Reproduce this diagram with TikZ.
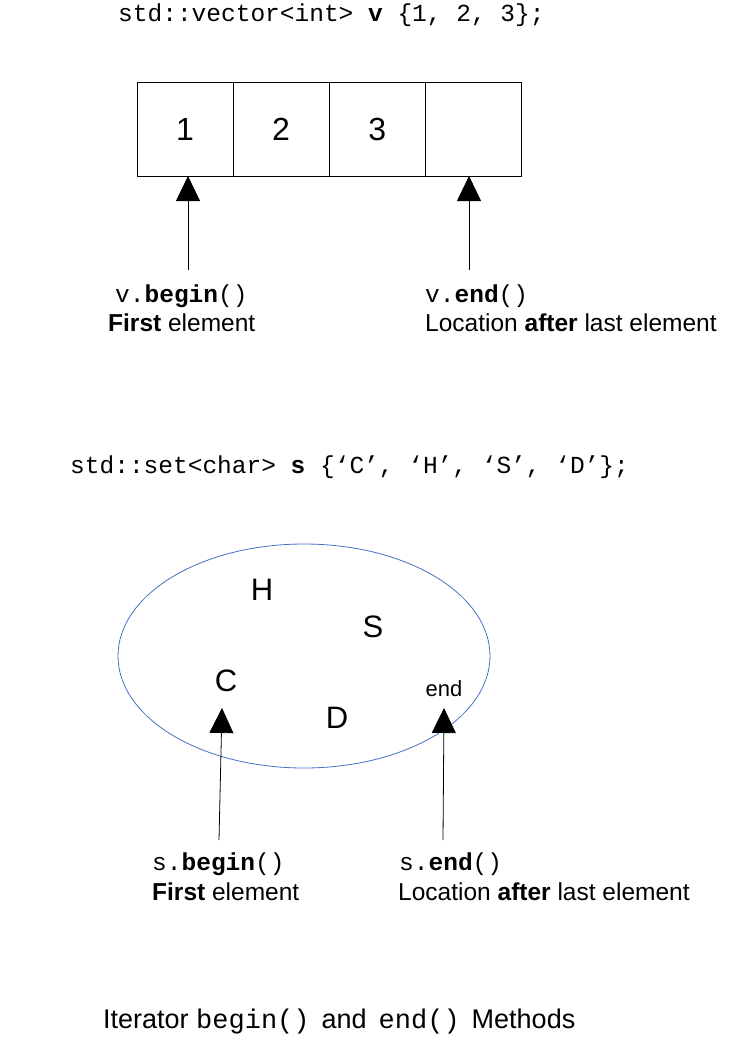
\documentclass[tikz,border=0pt]{standalone}
\usepackage{fontspec}
\setmainfont{Liberation Sans}
\setmonofont{Liberation Mono}
\usetikzlibrary{arrows.meta,shapes.geometric}
\begin{document}
\begin{tikzpicture}[x=1pt,y=-1pt,
  cell/.style={draw,minimum width=95.75pt,minimum height=94pt,inner sep=0,font=\fontsize{32}{34}\selectfont},
  ptr/.style={-{Triangle[width=24pt,length=25pt]},line width=0.8pt},
  lbl/.style={font=\fontsize{24.5}{28}\selectfont,anchor=west,inner sep=0},
  code/.style={font=\ttfamily\fontsize{24.5}{28}\selectfont,anchor=west,inner sep=0},
  letter/.style={font=\fontsize{31}{34}\selectfont,inner sep=0}]
\useasboundingbox (0,0) rectangle (732,1042);
\node[code] (c1) at (118,15) {std::vector<int> \textbf{v} \{1, 2, 3\};};
\node[cell] (a1) at (184.9,129) {1};
\node[cell,anchor=west] (a2) at (a1.east) {2};
\node[cell,anchor=west] (a3) at (a2.east) {3};
\node[cell,anchor=west] (a4) at (a3.east) {};
\coordinate (b1) at (188,270);
\coordinate (b2) at (469,270);
\coordinate (t1) at (188,176);
\coordinate (t2) at (469,176);
\draw[ptr] (b1) -- (t1);
\draw[ptr] (b2) -- (t2);
\node[code] (l1) at (115,296) {v.\textbf{begin}()};
\node[lbl] (l2) at (108,323) {\textbf{First} element};
\node[code] (l3) at (425,296) {v.\textbf{end}()};
\node[lbl] (l4) at (425,323) {Location \textbf{after} last element};
\node[code] (c2) at (70,467) {std::set<char> \textbf{s} \{‘C’, ‘H’, ‘S’, ‘D’\};};
\definecolor{ell}{RGB}{68,114,196}
\node[draw=ell,line width=0.8pt,ellipse,inner sep=0,minimum width=372pt,minimum height=224pt] (set) at (304,656) {};
\node[letter] (H) at (262,590) {H};
\node[letter] (S) at (373,627) {S};
\node[letter] (C) at (226,681) {C};
\node[letter] (D) at (337,718) {D};
\node[font=\fontsize{22}{26}\selectfont,inner sep=0] (E) at (444,689) {end};
\coordinate (sb1) at (219,840);
\coordinate (st1) at (222,708);
\coordinate (sb2) at (443,840);
\coordinate (st2) at (444,708);
\draw[ptr] (sb1) -- (st1);
\draw[ptr] (sb2) -- (st2);
\node[code] (m1) at (152,864) {s.\textbf{begin}()};
\node[lbl] (m2) at (152,892) {\textbf{First} element};
\node[code] (m3) at (399,864) {s.\textbf{end}()};
\node[lbl] (m4) at (398,892) {Location \textbf{after} last element};
\node[anchor=west,inner sep=0,font=\fontsize{27}{30}\selectfont] (T) at (103,1022) {Iterator \texttt{begin()} \,and\, \texttt{end()} \,Methods};
\end{tikzpicture}
\end{document}
